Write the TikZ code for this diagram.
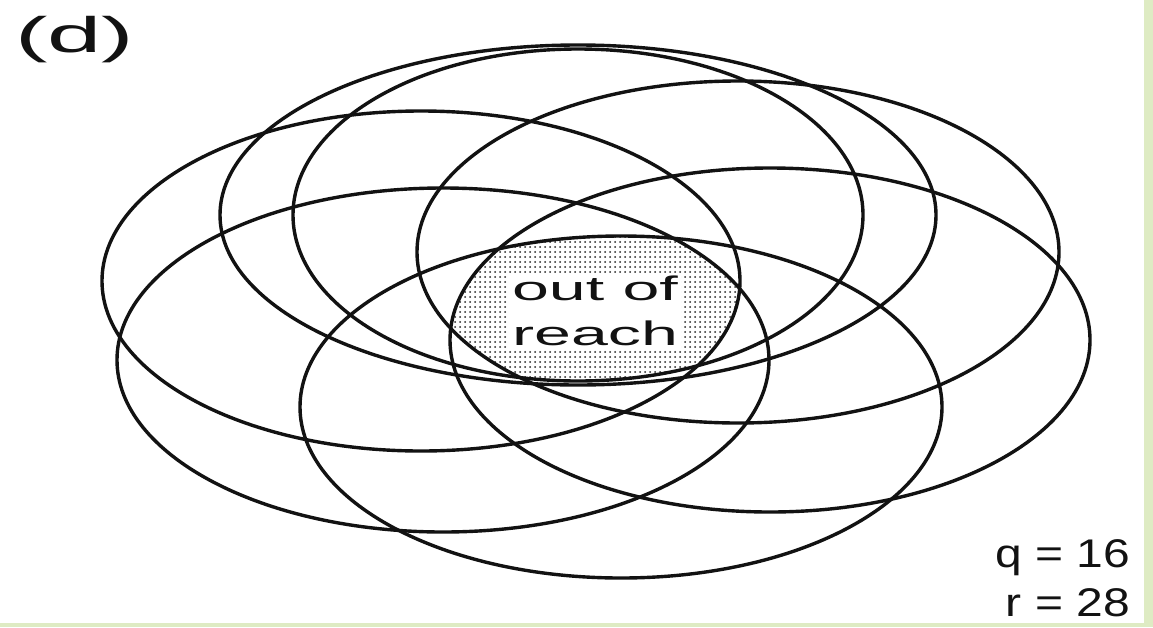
\documentclass[tikz,border=0pt]{standalone}
\usepackage{fontspec}
\setmainfont{Liberation Sans}
\newfontfamily\widesans[FakeStretch=1.95]{Liberation Sans}
\newfontfamily\valsans[FakeStretch=1.2]{Liberation Sans}
\usetikzlibrary{patterns.meta}
\definecolor{frame}{RGB}{222,235,195}

\begin{document}
\begin{tikzpicture}[x=1pt, y=-1pt,
    ring/.style={line width=3.4pt, draw=black!93},
    label/.style={inner sep=0pt, text=black!93},
    sizeA/.style={x radius=358pt, y radius=170pt},
    sizeB/.style={x radius=285pt, y radius=166pt},
    sizeC/.style={x radius=321pt, y radius=171pt},
    sizeD/.style={x radius=319pt, y radius=170pt},
    sizeE/.style={x radius=326pt, y radius=172pt},
    sizeF/.style={x radius=321pt, y radius=171pt},
    sizeG/.style={x radius=320pt, y radius=172pt}
  ]
  \useasboundingbox (0,0) rectangle (1153,627);
  \fill[white] (0,0) rectangle (1153,627);
  \fill[frame] (1144,0) rectangle (1153,627);
  \fill[frame] (0,623) rectangle (1153,627);

  % centres of the ellipses
  \coordinate (ea) at (578,215);
  \coordinate (eb) at (578,215);
  \coordinate (ec) at (738,252);
  \coordinate (ed) at (421,281);
  \coordinate (ee) at (443,360);
  \coordinate (ef) at (621,407);
  \coordinate (eg) at (770,340);

  % part that lies inside every ellipse
  \begin{scope}
    \clip (ea) ellipse [sizeA];
    \clip (eb) ellipse [sizeB];
    \clip (ec) ellipse [sizeC];
    \clip (ed) ellipse [sizeD];
    \clip (ee) ellipse [sizeE];
    \clip (ef) ellipse [sizeF];
    \clip (eg) ellipse [sizeG];
    \fill[pattern={Dots[distance=5pt, radius=1pt]}, pattern color=black!85]
      (400,200) rectangle (800,420);
  \end{scope}

  \draw[ring] (ea) ellipse [sizeA];
  \draw[ring] (eb) ellipse [sizeB];
  \draw[ring] (ec) ellipse [sizeC];
  \draw[ring] (ed) ellipse [sizeD];
  \draw[ring] (ee) ellipse [sizeE];
  \draw[ring] (ef) ellipse [sizeF];
  \draw[ring] (eg) ellipse [sizeG];

  \node[label, fill=white, inner sep=3pt, align=center,
        font=\widesans\fontsize{34}{45}\selectfont] (reach) at (595,311) {out of\\reach};
  \node[label, anchor=base west, font=\widesans\fontsize{50}{60}\selectfont]
    (panel) at (15,52) {(d)};
  \node[label, anchor=south east, align=right,
        font=\valsans\fontsize{40}{49}\selectfont] (vals) at (1130,617) {q = 16\\r = 28};
\end{tikzpicture}
\end{document}
